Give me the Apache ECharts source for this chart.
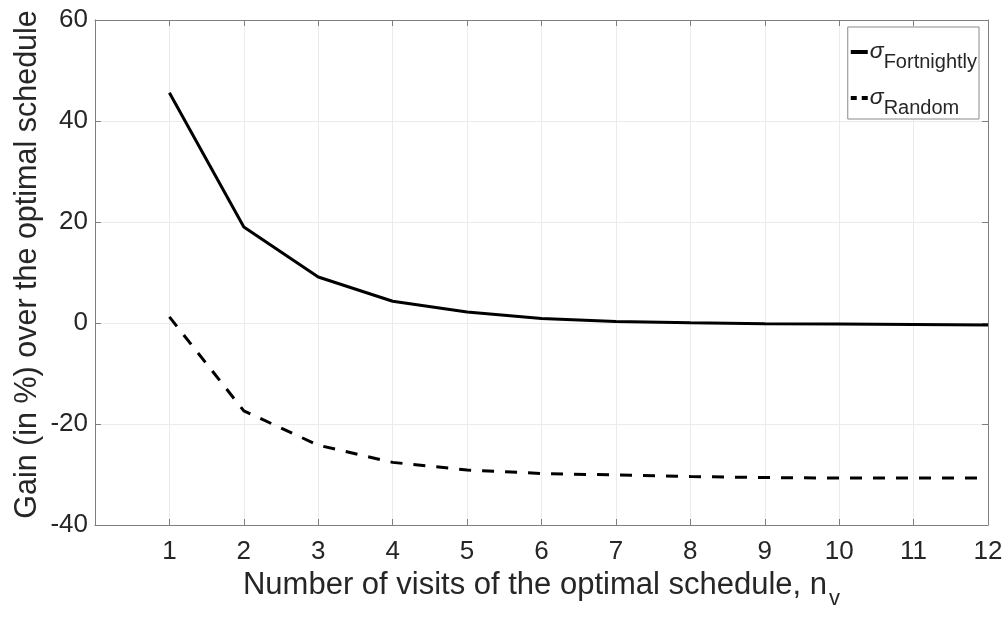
<!DOCTYPE html>
<html>
<head>
<meta charset="utf-8">
<script src="https://cdn.jsdelivr.net/npm/echarts@6/dist/echarts.min.js"></script>
<style>html,body{margin:0;padding:0;background:#fff}#c{width:1008px;height:617px}</style>
</head>
<body>
<div id="c"></div>
<script>
var visits = [1,2,3,4,5,6,7,8,9,10,11,12];
var fortnightly = [45.6,19.0,9.1,4.3,2.2,0.9,0.3,0.05,-0.15,-0.2,-0.3,-0.4];
var random = [1.2,-17.4,-24.2,-27.6,-29.1,-29.8,-30.1,-30.4,-30.6,-30.7,-30.7,-30.7];
var yTicks = [-40,-20,0,20,40,60];
var seriesNames = ['Fortnightly','Random'];

var FONT = 'Liberation Sans, Arial, Helvetica, sans-serif';
var AX = '#7f7f7f', TXT = '#262626', GRID = '#ebebeb';

function pairs(ys){ return visits.map(function(x,i){return [x, ys[i]];}); }

var chart = echarts.init(document.getElementById('c'), null, {renderer:'canvas'});
chart.setOption({
  animation:false,
  backgroundColor:'#fff',
  grid:{left:95, right:20, top:20, bottom:92, containLabel:false},
  legend:{
    orient:'vertical', right:29, top:27,
    backgroundColor:'#fff', borderColor:'#8a8a8a', borderWidth:1,
    padding:[5,2,1,3], itemGap:6, itemWidth:17, itemHeight:4,
    formatter:function(n){ return '{s|\u03c3}{b|'+n+'}'; },
    textStyle:{
      fontFamily:FONT, color:TXT, padding:[0,0,0,-3], lineHeight:40, fontSize:20,
      rich:{
        s:{fontFamily:FONT, fontStyle:'italic', fontSize:23, color:TXT, lineHeight:40, verticalAlign:'middle'},
        b:{fontFamily:FONT, fontSize:20, color:TXT, lineHeight:10, verticalAlign:'bottom'}
      }
    },
    data:[
      {name:seriesNames[0], icon:'path://M0,0H17V4H0Z'},
      {name:seriesNames[1], icon:'path://M0,0H6V4H0Z M11,0H17V4H11Z'}
    ]
  },
  xAxis:[{
    type:'value', min:0, max:12, interval:1,
    axisLine:{show:true, onZero:false, lineStyle:{color:AX, width:1}},
    axisTick:{show:true, inside:true, length:6, lineStyle:{color:AX}},
    axisLabel:{color:TXT, fontFamily:FONT, fontSize:26, margin:14,
      formatter:function(v){ return v===0 ? '' : String(v); }},
    splitLine:{show:true, lineStyle:{color:GRID, width:1}},
    name:'Number of visits of the optimal schedule, n{sub|v}',
    nameLocation:'middle', nameGap:35,
    nameTextStyle:{color:TXT, fontFamily:FONT, fontSize:31,
      rich:{sub:{fontFamily:FONT, fontSize:22, color:TXT, padding:[28,0,0,2]}}}
  },{
    type:'value', position:'top', min:0, max:12, interval:1,
    axisLine:{show:true, onZero:false, lineStyle:{color:AX, width:1}},
    axisTick:{show:true, inside:true, length:6, lineStyle:{color:AX}},
    axisLabel:{show:false}, splitLine:{show:false}
  }],
  yAxis:[{
    type:'value', min:yTicks[0], max:yTicks[yTicks.length-1], interval:20,
    axisLine:{show:true, onZero:false, lineStyle:{color:AX, width:1}},
    axisTick:{show:true, inside:true, length:6, lineStyle:{color:AX}},
    axisLabel:{color:TXT, fontFamily:FONT, fontSize:26, margin:7},
    splitLine:{show:true, lineStyle:{color:GRID, width:1}},
    name:'Gain (in %) over the optimal schedule',
    nameLocation:'middle', nameGap:52, nameMoveOverlap:false,
    nameTextStyle:{color:TXT, fontFamily:FONT, fontSize:30.5, padding:[0,0,0,16]}
  },{
    type:'value', position:'right', min:yTicks[0], max:yTicks[yTicks.length-1], interval:20,
    axisLine:{show:true, onZero:false, lineStyle:{color:AX, width:1}},
    axisTick:{show:true, inside:true, length:6, lineStyle:{color:AX}},
    axisLabel:{show:false}, splitLine:{show:false}
  }],
  series:[{
    name:seriesNames[0], type:'line', data:pairs(fortnightly),
    showSymbol:false, symbol:'none',
    lineStyle:{color:'#000', width:3, type:'solid'}, itemStyle:{color:'#000'}
  },{
    name:seriesNames[1], type:'line', data:pairs(random),
    showSymbol:false, symbol:'none',
    lineStyle:{color:'#000', width:3, type:[12,11]}, itemStyle:{color:'#000'}
  }]
});
</script>
</body>
</html>
